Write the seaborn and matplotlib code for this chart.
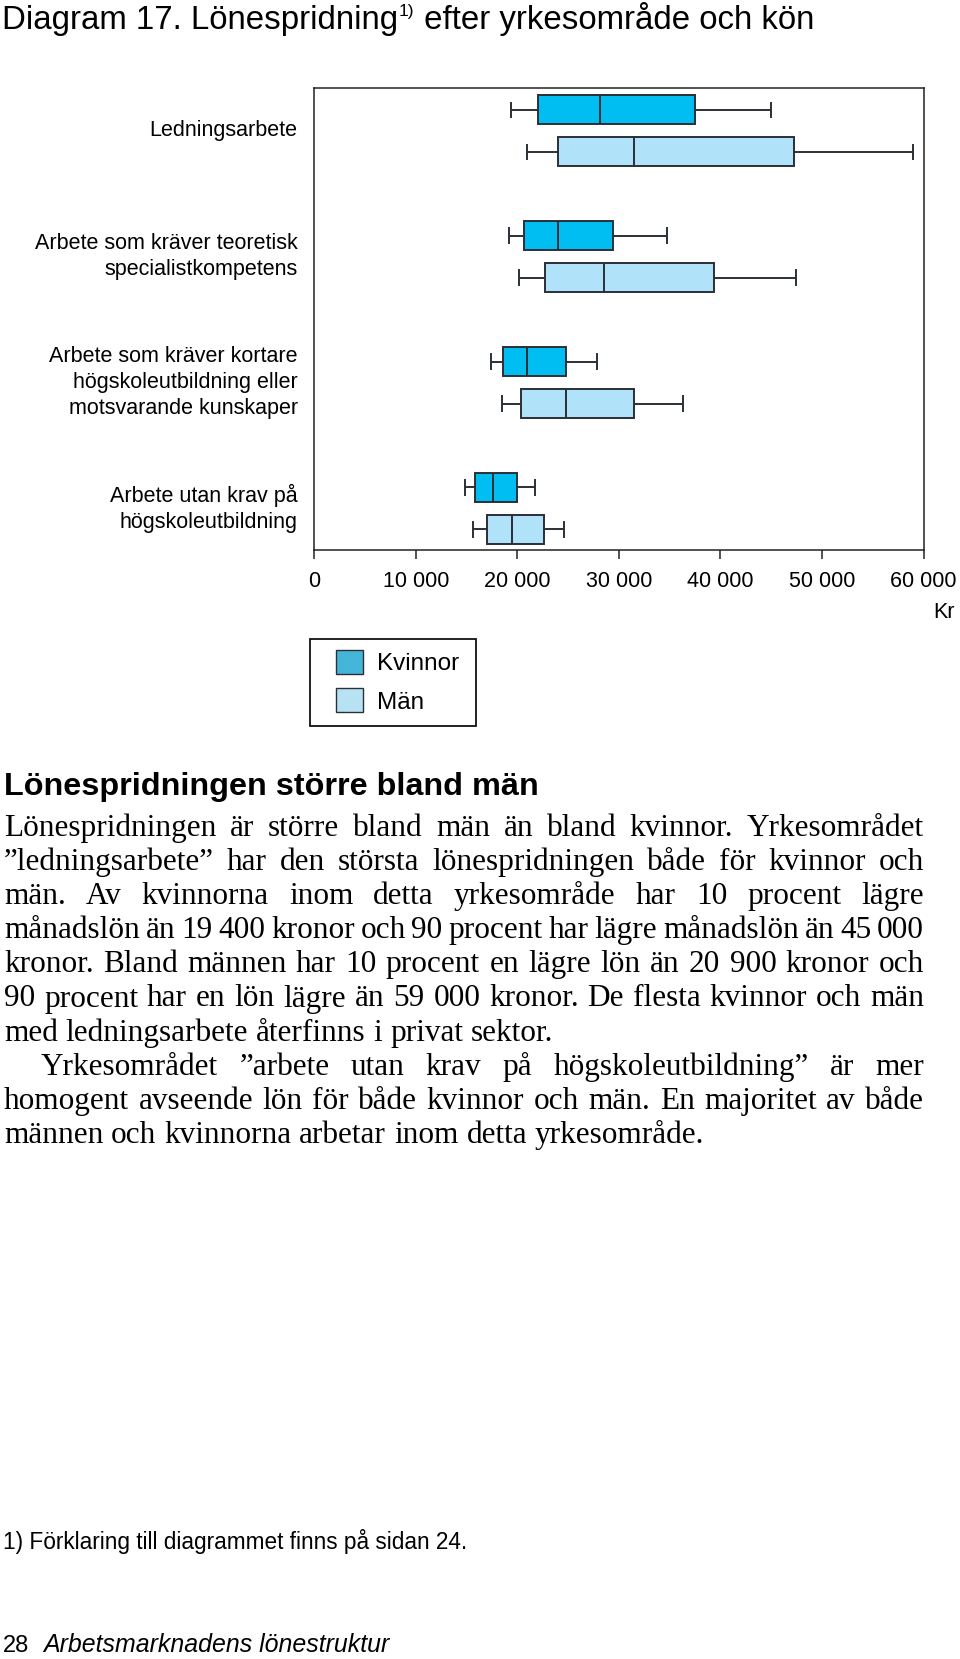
import numpy as np
import pandas as pd
import matplotlib
matplotlib.use("Agg")
import matplotlib.pyplot as plt
import seaborn as sns
from matplotlib.patches import Patch, Rectangle

# ---------------- data ----------------
categories = [
    "Ledningsarbete",
    "Arbete som kräver teoretisk\nspecialistkompetens",
    "Arbete som kräver kortare\nhögskoleutbildning eller\nmotsvarande kunskaper",
    "Arbete utan krav på\nhögskoleutbildning",
]
genders = ["Kvinnor", "Män"]

# percentiles (kr): P10, P25, median, P75, P90
kvinnor_p10 = [19400, 19200, 17400, 14800]
kvinnor_p25 = [22000, 20700, 18600, 15800]
kvinnor_p50 = [28100, 24000, 20900, 17600]
kvinnor_p75 = [37500, 29400, 24800, 20000]
kvinnor_p90 = [45000, 34700, 27800, 21700]

man_p10 = [20900, 20200, 18500, 15600]
man_p25 = [24000, 22700, 20400, 17000]
man_p50 = [31500, 28500, 24800, 19500]
man_p75 = [47200, 39400, 31500, 22600]
man_p90 = [59000, 47400, 36300, 24600]

x_ticks = [0, 10000, 20000, 30000, 40000, 50000, 60000]
x_tick_labels = ["0", "10 000", "20 000", "30 000", "40 000", "50 000", "60 000"]

title_main = "Diagram 17. Lönespridning"
title_sup = "1)"
title_rest = " efter yrkesområde och kön"
heading = "Lönespridningen större bland män"
body_lines = [
    ("Lönespridningen är större bland män än bland kvinnor. Yrkesområdet", True, 0),
    ("”ledningsarbete” har den största lönespridningen både för kvinnor och", True, 0),
    ("män. Av kvinnorna inom detta yrkesområde har 10 procent lägre", True, 0),
    ("månadslön än 19 400 kronor och 90 procent har lägre månadslön än 45 000", True, 0),
    ("kronor. Bland männen har 10 procent en lägre lön än 20 900 kronor och", True, 0),
    ("90 procent har en lön lägre än 59 000 kronor. De flesta kvinnor och män", True, 0),
    ("med ledningsarbete återfinns i privat sektor.", False, 0),
    ("Yrkesområdet ”arbete utan krav på högskoleutbildning” är mer", True, 37),
    ("homogent avseende lön för både kvinnor och män. En majoritet av både", True, 0),
    ("männen och kvinnorna arbetar inom detta yrkesområde.", False, 0),
]
footnote = "1) Förklaring till diagrammet finns på sidan 24."
footer_num = "28"
footer_title = "Arbetsmarknadens lönestruktur"

# ---------------- style ----------------
c_kv = "#00BEF2"
c_mn = "#B0E2FA"
c_kv_leg = "#45B6DA"
c_mn_leg = "#B6E2F3"
edge = "#2b2f36"
SANS = ["Liberation Sans", "DejaVu Sans"]
SERIF = ["Liberation Serif", "DejaVu Serif"]

plt.rcParams["font.family"] = SANS

W, H = 960, 1659
fig = plt.figure(figsize=(W / 100, H / 100), dpi=100)
fig.patch.set_facecolor("white")

def fx(x):
    return x / W

def fy(y):
    return 1 - y / H

ax_l, ax_r, ax_t, ax_b = 314.3, 923.5, 88.3, 550.3
ax = fig.add_axes([fx(ax_l), fy(ax_b), (ax_r - ax_l) / W, (ax_b - ax_t) / H])

rows = []
kv_arrs = [kvinnor_p10, kvinnor_p25, kvinnor_p50, kvinnor_p75, kvinnor_p90]
mn_arrs = [man_p10, man_p25, man_p50, man_p75, man_p90]
for i, cat in enumerate(categories):
    for g, arrs in (("Kvinnor", kv_arrs), ("Män", mn_arrs)):
        for a in arrs:
            rows.append((cat, g, a[i]))
df = pd.DataFrame(rows, columns=["yrke", "kon", "lon"])

sns.boxplot(
    data=df, x="lon", y="yrke", hue="kon", order=categories, hue_order=genders,
    palette={"Kvinnor": c_kv, "Män": c_mn}, saturation=1, whis=(0, 100),
    width=0.667, gap=0.325, linewidth=1.4, linecolor=edge, legend=False, ax=ax,
)

ax.set_xlim(0, 60000)
ax.set_ylim(3.332, -0.336)
ax.set_xticks(x_ticks)
ax.set_xticklabels(x_tick_labels, fontsize=15.5, family=SANS)
ax.set_yticks(range(len(categories)))
ax.set_yticklabels(categories, fontsize=15.5, family=SANS, linespacing=1.3)
for lab in ax.get_yticklabels():
    lab.set_verticalalignment("center")
ax.set_xlabel("")
ax.set_ylabel("")
ax.tick_params(axis="x", direction="out", length=6.5, width=1.1, color="#222222", pad=8.5)
ax.tick_params(axis="y", length=0, pad=12)
for s in ax.spines.values():
    s.set_visible(True)
    s.set_linewidth(1.1)
    s.set_color("#222222")
ax.grid(False)
ax.set_facecolor("white")

fig.text(fx(955), fy(613), "Kr", fontsize=15.5, family=SANS, ha="right", va="center")

# ---------------- legend ----------------
handles = [Patch(facecolor=c_kv_leg, edgecolor=edge, linewidth=1.0),
           Patch(facecolor=c_mn_leg, edgecolor=edge, linewidth=1.0)]
leg = fig.legend(handles, genders, loc="upper left",
                 bbox_to_anchor=(fx(335.5), fy(650)), bbox_transform=fig.transFigure,
                 frameon=False, borderpad=0, borderaxespad=0,
                 handlelength=1.12, handleheight=1.12, handletextpad=0.6,
                 labelspacing=0.55, prop={"family": SANS, "size": 17.5})
fig.add_artist(Rectangle((fx(310), fy(726)), (476 - 310) / W, (726 - 639) / H,
                         transform=fig.transFigure, fill=False, edgecolor="#111111",
                         linewidth=1.3))

# ---------------- texts ----------------
fig.canvas.draw()
renderer = fig.canvas.get_renderer()

def width_px(t):
    return t.get_window_extent(renderer).width

def fit_text(x, y, s, target_w, base_size, **kw):
    t = fig.text(fx(x), fy(y), s, fontsize=base_size, va="baseline", **kw)
    w = width_px(t)
    t.set_fontsize(base_size * target_w / w)
    return t

# title
tsize = 23.8
t1 = fig.text(fx(2), fy(28.5), title_main, fontsize=tsize, family=SANS, va="baseline")
w1 = width_px(t1)
t2 = fig.text(fx(2 + w1 + 1), fy(16), title_sup, fontsize=12.5, family=SANS, va="baseline")
w2 = width_px(t2)
t3 = fig.text(fx(2 + w1 + w2 + 1), fy(28.5), title_rest, fontsize=tsize, family=SANS, va="baseline")

# heading
fit_text(4, 795, heading, 534, 20, family=SANS, weight="bold")

# body text (justified)
x0, x1 = 4.0, 924.0
base = 22.0
min_gap_em = 0.2
limits = []
for s, j, ind in body_lines:
    if not j:
        continue
    words = s.split(" ")
    tmp = [fig.text(0, 0, w, fontsize=base, family=SERIF) for w in words]
    ww = sum(width_px(t) for t in tmp)
    for t in tmp:
        t.remove()
    ngap = len(words) - 1
    limits.append((x1 - x0 - ind) / (ww / base + ngap * min_gap_em * 100 / 72))
body_size = min(limits)

y_base = 836.0
dy = 34.1
for i, (s, just, ind) in enumerate(body_lines):
    y = y_base + dy * i
    words = s.split(" ")
    ts = [fig.text(0, fy(y), w, fontsize=body_size, family=SERIF, va="baseline") for w in words]
    ws = [width_px(t) for t in ts]
    start = x0 + ind
    if just and len(words) > 1:
        gap = (x1 - start - sum(ws)) / (len(words) - 1)
    else:
        sp = fig.text(0, 0, "a a", fontsize=body_size, family=SERIF)
        sa = fig.text(0, 0, "aa", fontsize=body_size, family=SERIF)
        gap = width_px(sp) - width_px(sa)
        sp.remove(); sa.remove()
    x = start
    for t, w in zip(ts, ws):
        t.set_x(fx(x))
        x += w + gap

# footnote
fit_text(3, 1549, footnote, 469, 14, family=SANS)

# footer
tn = fig.text(fx(3), fy(1652), footer_num, fontsize=17, family=SANS, va="baseline")
fit_text(43, 1652, footer_title, 347, 17, family=SANS, style="italic")

fig.savefig("out.png", dpi=100, facecolor="white")
